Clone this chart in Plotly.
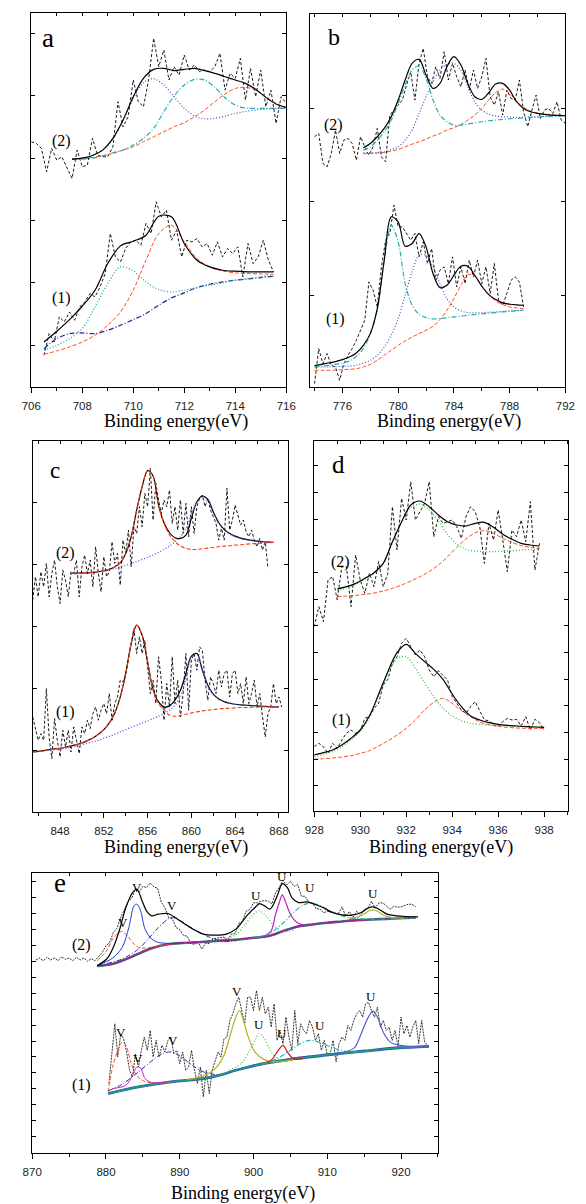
import numpy as np
import plotly.graph_objects as go

W, H = 586, 1204
SERIF = "Liberation Serif"
SANS = "Liberation Sans"


def grid(start, step, n):
    """Evenly spaced binding-energy grid of the spectrometer."""
    return np.round(start + step * np.arange(n), 3)

# ------------------------------------------------------------------ data
# ---- panel a (Fe 2p region) ----
a2_start, a2_step = 706.0, 0.2
a2_raw = [73.5, 73.0, 71.5, 64.5, 71.5, 68.0, 69.0, 65.5, 62.5, 71.0,
          66.0, 66.5, 74.5, 69.5, 69.0, 69.0, 72.0, 85.5, 78.0, 81.0,
          92.0, 85.5, 84.0, 92.0, 104.5, 96.0, 101.0, 92.0, 96.0, 93.5,
          99.5, 95.0, 96.5, 94.5, 95.0, 94.5, 96.0, 100.0, 89.0, 94.0,
          92.5, 98.5, 86.0, 95.5, 87.0, 95.0, 84.0, 89.0, 79.0, 87.0,
          85.0]
a2f_start, a2f_step = 707.6, 0.4
a2_env = [68.3, 68.6, 69.4, 71.0, 74.5, 80.0, 87.0, 92.5, 95.2, 95.5, 94.8,
          95.2, 95.5, 94.8, 94.0, 93.0, 92.0, 91.0, 89.2, 86.8, 84.8, 83.8]
a2_p1 = [68.3, 68.6, 69.4, 71.0, 74.3, 79.8, 86.5, 91.2, 92.4, 90.5, 87.0,
         83.5, 81.2, 80.4, 80.5, 81.2, 82.0, 82.6, 83.0, 83.3, 83.5, 83.7]
a2_p2 = [68.2, 68.3, 68.6, 69.2, 70.2, 71.0, 72.5, 74.5, 77.5, 82.5, 87.2,
         90.5, 92.2, 92.0, 89.8, 86.7, 84.5, 83.6, 83.5, 83.5, 83.5, 83.5]
a2_p3 = [68.3, 68.4, 68.8, 69.3, 70.0, 71.0, 72.0, 73.5, 75.0, 76.5, 78.0,
         79.2, 81.0, 83.0, 85.5, 87.8, 89.5, 89.8, 89.0, 87.0, 85.0, 83.8]

a1_start, a1_step = 706.5, 0.2
a1_raw = [9.5, 16.0, 13.5, 21.0, 19.5, 22.5, 20.0, 24.0, 25.5, 28.0,
          27.0, 30.0, 34.0, 46.0, 39.0, 37.5, 41.5, 43.5, 44.0, 42.5,
          49.0, 46.0, 55.5, 51.0, 53.0, 44.0, 47.0, 39.0, 44.0, 43.5,
          44.5, 42.0, 43.0, 39.5, 43.5, 39.0, 41.5, 40.0, 42.0, 33.0,
          43.0, 37.0, 39.0, 44.0, 38.0, 34.5]
a1f_start, a1f_step = 706.5, 0.5
a1_env = [13.5, 16.7, 20.2, 24.2, 29.0, 37.0, 42.3, 43.7, 45.5, 51.2,
          51.0, 43.0, 38.0, 36.0, 35.0, 34.7, 34.5, 34.5, 34.5]
a1_p1 = [11.0, 12.5, 14.5, 17.5, 24.0, 31.0, 36.0, 34.8, 31.5, 29.2,
         28.5, 29.0, 29.8, 30.5, 31.2, 32.0, 32.5, 33.0, 33.5]
a1_p2 = [9.8, 10.8, 12.0, 13.5, 15.5, 18.5, 22.5, 29.0, 38.0, 46.0,
         48.5, 43.5, 38.5, 36.0, 34.8, 34.2, 34.0, 33.9, 33.8]
a1_p3 = [11.5, 14.5, 16.0, 16.2, 16.0, 17.0, 18.5, 20.2, 22.0, 24.5,
         26.7, 28.2, 29.8, 30.8, 31.5, 32.0, 32.4, 32.8, 33.2]

# ---- panel b (Co 2p region) ----
b2_start, b2_step = 774.0, 0.3
b2_raw = [75.0, 76.0, 67.0, 66.0, 70.0, 77.0, 70.0, 74.0, 74.5, 73.0,
          68.0, 75.0, 72.0, 69.5, 72.0, 77.5, 69.0, 67.5, 81.5, 83.0,
          84.5, 86.0, 90.5, 94.5, 86.0, 97.0, 101.5, 93.0, 91.0, 96.0,
          92.5, 100.5, 92.0, 97.0, 93.0, 90.0, 95.0, 89.0, 95.0, 89.5,
          93.0, 98.5, 87.0, 84.5, 88.5, 81.5, 89.0, 86.5, 86.0, 92.0,
          82.5, 78.0, 83.0, 87.5, 80.5, 83.0, 83.5, 82.0, 85.5, 80.0,
          79.0]
b2f_start, b2f_step = 777.5, 0.5
b2_env = [71.7, 73.0, 75.0, 77.5, 81.0, 86.0, 92.0, 97.0, 98.2, 93.5,
          89.5, 91.0, 96.0, 99.0, 96.5, 91.0, 87.0, 86.2, 88.2, 90.8,
          91.0, 89.0, 85.5, 83.5, 82.5, 82.0, 81.7, 81.5, 81.4, 81.3]
b2_p1 = [71.0, 72.0, 74.0, 76.5, 80.0, 85.0, 90.5, 95.0, 96.2, 92.5,
         86.0, 81.5, 79.5, 78.5, 78.5, 78.8, 79.2, 79.5, 79.8, 80.0,
         80.2, 80.4, 80.5, 80.7, 80.8, 80.9, 81.0, 81.1, 81.2, 81.3]
b2_p2 = [70.2, 70.2, 70.3, 70.5, 71.2, 72.0, 74.0, 77.0, 82.0, 87.0,
         91.5, 95.0, 96.7, 97.0, 95.0, 90.0, 85.5, 83.0, 81.8, 81.2,
         81.0, 80.9, 80.8, 80.8, 80.9, 81.0, 81.1, 81.2, 81.3, 81.3]
b2_p3 = [69.9, 70.0, 70.1, 70.3, 70.7, 71.2, 72.0, 72.8, 73.5, 74.3,
         75.2, 76.0, 77.0, 77.7, 78.7, 80.0, 81.5, 83.5, 86.0, 88.3,
         89.3, 88.0, 85.7, 83.8, 82.7, 82.1, 81.8, 81.6, 81.4, 81.3]

b1_start, b1_step = 774.0, 0.3
b1_raw = [1.0, 11.5, 7.0, 10.0, 6.5, 6.0, 2.0, 7.0, 9.5, 11.5,
          14.0, 17.0, 20.0, 31.5, 29.0, 24.0, 36.0, 44.0, 46.0, 54.5,
          48.0, 48.0, 46.0, 44.0, 46.0, 39.0, 43.5, 37.0, 41.5, 32.0,
          35.0, 36.0, 31.0, 39.0, 30.0, 36.0, 31.0, 38.0, 33.0, 38.0,
          31.0, 36.0, 28.0, 37.0, 26.0, 24.5, 28.0, 32.0, 33.0, 31.5,
          24.0]
b1f_start, b1f_step = 774.0, 0.5
b1_env = [6.4, 6.8, 7.2, 7.6, 8.2, 9.0, 10.2, 12.5, 16.0, 23.5,
          38.0, 51.0, 49.5, 42.2, 43.0, 46.0, 42.0, 34.0, 29.8, 30.5,
          33.5, 36.2, 36.2, 33.5, 30.2, 27.7, 26.2, 25.2, 24.8, 24.6, 24.5]
b1_p1 = [6.0, 6.2, 6.5, 6.8, 7.2, 7.8, 9.2, 11.5, 16.0, 23.0,
         38.0, 48.5, 43.5, 31.0, 24.5, 21.8, 20.8, 20.4, 20.5, 20.8,
         21.0, 21.2, 21.5, 21.7, 21.9, 22.1, 22.3, 22.5, 22.7, 22.9, 23.0]
b1_p2 = [6.0, 6.0, 6.0, 6.1, 6.2, 6.3, 6.5, 7.2, 8.0, 9.5,
         12.0, 15.5, 20.5, 27.5, 34.5, 39.5, 39.5, 36.0, 31.0, 26.5,
         24.0, 22.8, 22.3, 22.2, 22.3, 22.4, 22.5, 22.7, 22.8, 22.9, 23.0]
b1_p3 = [5.0, 5.0, 5.0, 5.1, 5.2, 5.3, 5.5, 6.0, 6.8, 8.0,
         9.5, 11.0, 12.5, 13.8, 15.0, 16.0, 17.0, 18.2, 20.2, 23.0,
         26.5, 30.5, 33.7, 33.2, 30.5, 27.7, 25.8, 24.7, 24.0, 23.7, 23.5]

# ---- panel c (Ni 2p region) ----
c2_start, c2_step = 845.5, 0.25
c2_raw = [63.5, 70.5, 64.5, 72.0, 67.5, 74.5, 64.5, 71.5, 75.5, 67.5,
          62.5, 72.5, 69.5, 64.5, 72.0, 71.5, 75.5, 64.5, 73.5, 77.0,
          71.5, 75.5, 67.5, 79.5, 71.5, 66.0, 76.5, 70.5, 72.0, 81.0,
          74.5, 77.5, 68.0, 81.5, 77.5, 84.5, 73.5, 85.5, 83.5, 91.5,
          85.5, 95.5, 91.5, 103.0, 87.5, 98.5, 93.5, 89.5, 93.5, 91.5,
          96.5, 86.5, 91.5, 84.5, 93.5, 83.5, 92.5, 82.5, 91.5, 83.5,
          91.5, 94.0, 95.0, 91.5, 94.0, 90.5, 88.5, 86.5, 81.5, 85.0,
          81.5, 97.0, 84.5, 87.5, 92.0, 88.5, 86.0, 87.5, 84.0, 82.5,
          84.5, 81.5, 79.5, 82.0, 78.5, 81.0, 73.0]
c2f_start, c2f_step = 849.0, 0.5
c2_env = [71.5, 71.6, 71.7, 71.7, 71.8, 72.0, 72.3, 72.7, 73.5, 74.7,
          77.5, 82.5, 90.5, 97.5, 102.3, 100.7, 92.0, 86.7, 83.7, 82.2,
          82.0, 83.0, 88.0, 93.0, 94.7, 93.7, 90.0, 86.7, 84.7, 83.5,
          82.7, 82.1, 81.7, 81.4, 81.2, 81.0, 80.9, 80.8]
c2_p1 = [71.5, 71.6, 71.7, 71.7, 71.8, 72.0, 72.3, 72.7, 73.5, 74.7,
         77.5, 82.5, 90.5, 97.5, 102.3, 100.7, 92.0, 86.5, 83.0, 81.0,
         79.7, 79.0, 78.7, 78.7, 78.9, 79.1, 79.3, 79.5, 79.7, 79.8,
         80.0, 80.1, 80.3, 80.4, 80.5, 80.6, 80.7, 80.8]
c2_p2 = [71.3, 71.4, 71.5, 71.6, 71.8, 72.0, 72.3, 72.6, 73.0, 73.4,
         73.9, 74.5, 75.1, 75.7, 76.3, 77.0, 77.8, 78.7, 79.7, 81.0,
         82.5, 85.0, 89.0, 93.0, 94.5, 93.5, 89.8, 86.5, 84.5, 83.3,
         82.5, 82.0, 81.6, 81.4, 81.2, 81.0, 80.9, 80.8]

c1_start, c1_step = 845.5, 0.25
c1_raw = [28.5, 24.5, 21.5, 23.5, 21.5, 37.0, 22.5, 16.0, 28.0, 21.5,
          16.5, 24.5, 19.5, 24.5, 18.0, 25.5, 21.5, 17.5, 25.5, 23.5,
          27.5, 25.0, 29.5, 31.5, 27.5, 30.5, 32.5, 29.5, 35.5, 27.5,
          32.5, 34.5, 39.5, 39.0, 41.5, 46.5, 50.5, 55.0, 47.5, 52.5,
          47.5, 51.5, 43.5, 35.5, 39.5, 32.5, 46.5, 39.5, 27.5, 38.5,
          31.5, 46.5, 32.5, 39.5, 28.5, 35.5, 47.5, 30.5, 45.5, 47.5,
          42.5, 49.5, 48.5, 39.5, 33.5, 40.5, 38.5, 35.5, 42.5, 37.5,
          41.5, 42.5, 34.5, 41.5, 42.5, 35.5, 38.5, 32.5, 40.5, 32.5,
          35.5, 39.5, 31.5, 35.5, 28.5, 22.5, 29.5, 31.5, 38.5, 32.5,
          34.5, 31.5]
c1f_start, c1f_step = 845.5, 0.5
c1_env = [18.0, 18.2, 18.4, 18.7, 18.9, 19.1, 19.4, 19.8, 20.2, 20.7,
          21.4, 22.2, 23.3, 24.7, 26.7, 29.7, 34.5, 41.5, 50.5, 56.0,
          53.0, 45.0, 36.7, 33.0, 31.5, 31.8, 33.5, 36.5, 41.5, 46.7,
          47.5, 42.5, 38.0, 35.3, 33.9, 33.1, 32.6, 32.3, 32.1, 32.0,
          31.9, 31.8, 31.7, 31.6, 31.5, 31.5]
c1_p1 = [18.0, 18.2, 18.4, 18.7, 18.9, 19.1, 19.4, 19.8, 20.2, 20.7,
         21.4, 22.2, 23.3, 24.7, 26.7, 29.7, 34.5, 41.5, 50.5, 56.0,
         53.0, 45.0, 36.7, 32.5, 30.5, 29.0, 28.7, 28.9, 29.3, 29.7,
         30.0, 30.3, 30.5, 30.7, 30.9, 31.0, 31.1, 31.2, 31.3, 31.3,
         31.4, 31.4, 31.5, 31.5, 31.5, 31.5]
c1_p2 = [17.9, 18.1, 18.3, 18.5, 18.7, 18.9, 19.1, 19.4, 19.8, 20.2,
         20.6, 21.0, 21.5, 22.1, 22.7, 23.3, 24.0, 24.7, 25.4, 26.0,
         26.7, 27.3, 28.0, 28.7, 29.5, 30.5, 32.0, 34.5, 40.0, 46.5,
         47.5, 42.7, 38.0, 35.3, 33.9, 33.1, 32.6, 32.3, 32.1, 32.0,
         31.9, 31.8, 31.7, 31.6, 31.5, 31.5]

# ---- panel d (Cu 2p region) ----
d2_start, d2_step = 928.0, 0.2
d2_raw = [55.3, 61.3, 56.8, 69.3, 70.3, 63.3, 73.3, 73.3, 61.3, 76.8,
          69.3, 65.3, 71.3, 67.3, 74.8, 67.3, 71.3, 91.3, 78.3, 93.8,
          87.3, 98.8, 87.3, 89.8, 92.3, 98.8, 82.3, 88.3, 86.3, 86.8,
          87.3, 85.3, 81.8, 88.3, 91.3, 89.8, 85.3, 74.3, 86.3, 81.3,
          90.3, 81.3, 71.8, 84.3, 82.3, 87.3, 80.8, 92.8, 72.3, 80.3]
d2f_start, d2f_step = 929.0, 0.4
d2_env = [66.6, 67.3, 68.3, 69.8, 71.5, 74.3, 80.8, 86.8, 91.8, 93.0, 91.3, 88.8,
          86.8, 85.8, 85.5, 86.3, 86.6, 85.1, 83.0, 81.5, 80.3, 79.8, 79.5]
d2_p1 = [66.1, 66.9, 68.0, 69.5, 71.3, 74.0, 80.5, 86.5, 91.0, 92.1, 90.3, 87.0,
         83.0, 80.1, 78.5, 78.0, 77.8, 77.8, 77.9, 78.1, 78.3, 78.4, 78.5]
d2_p2 = [64.3, 64.5, 64.7, 65.0, 65.4, 66.0, 66.8, 67.8, 69.0, 70.3, 71.8, 73.8,
         76.3, 79.1, 81.6, 83.5, 84.1, 83.3, 81.8, 80.6, 79.6, 79.1, 78.8]

d1_start, d1_step = 928.0, 0.2
d1_raw = [19.3, 20.3, 19.3, 17.3, 20.3, 18.8, 21.3, 23.3, 24.3, 23.3,
          24.1, 27.8, 28.3, 30.8, 32.3, 37.8, 39.5, 44.3, 46.3, 50.3,
          51.8, 49.3, 46.8, 48.3, 46.3, 42.3, 40.3, 42.1, 40.8, 39.3,
          34.3, 32.1, 30.3, 29.3, 31.3, 32.8, 29.8, 27.3, 27.1, 25.8,
          25.3, 26.8, 27.8, 27.3, 27.5, 25.5, 28.3, 24.3, 27.5, 26.5,
          24.3]
d1f_start, d1f_step = 928.0, 0.4
d1_env = [16.8, 17.5, 18.3, 19.8, 21.8, 24.3, 28.5, 35.0, 41.8, 47.5, 50.0, 47.3, 44.8,
          42.5, 39.5, 35.1, 31.3, 28.5, 27.3, 26.5, 26.0, 25.7, 25.5, 25.3, 25.2, 25.1]
d1_p1 = [16.3, 17.0, 17.8, 19.3, 21.3, 23.8, 28.0, 34.5, 41.1, 45.8, 46.3, 42.8, 38.5,
         34.3, 30.8, 28.5, 27.1, 26.3, 26.0, 25.8, 25.7, 25.6, 25.5, 25.4, 25.3, 25.2]
d1_p2 = [15.5, 15.7, 15.9, 16.2, 16.6, 17.3, 18.1, 19.5, 21.0, 22.8, 24.8, 27.3, 30.3,
         32.6, 33.8, 32.3, 30.1, 28.3, 26.7, 25.9, 25.4, 25.1, 24.9, 24.8, 24.8, 24.7]

# ---- panel e (Ce 3d region) ----
e2_start, e2_step = 870.5, 0.5
e2_raw = [58.2, 58.8, 58.0, 59.0, 58.2, 58.8, 58.0, 59.2, 58.4, 58.8,
          58.0, 59.0, 58.2, 58.8, 57.8, 58.6, 58.0, 59.2, 60.5, 62.5,
          63.5, 66.5, 67.8, 71.0, 73.2, 75.8, 76.8, 79.8, 78.6, 80.4,
          80.0, 81.4, 80.2, 79.8, 75.6, 73.9, 71.0, 70.6, 68.0, 67.4,
          65.6, 65.4, 63.2, 62.9, 63.6, 61.5, 63.3, 63.1, 64.6, 64.8,
          64.9, 65.1, 64.2, 66.0, 66.1, 69.2, 69.8, 72.9, 73.4, 75.4,
          75.4, 75.9, 76.1, 75.9, 75.1, 78.4, 80.1, 82.2, 80.8, 81.9,
          80.4, 80.9, 77.4, 77.4, 75.6, 75.4, 73.6, 73.6, 72.4, 72.9,
          72.6, 72.4, 72.1, 74.2, 71.4, 72.8, 71.1, 72.9, 71.6, 73.4,
          73.8, 75.9, 73.8, 75.4, 75.4, 74.6, 73.4, 74.4, 74.1, 74.2,
          74.6, 75.0, 75.0, 74.2]
e2_bg_x = [878.8, 880, 881, 882, 883, 884, 885, 886, 887, 888, 889, 890, 892, 894,
           896, 898, 900, 902, 904, 906, 908, 910, 912, 914, 916, 918, 920, 922]
e2_bg = [56.4, 56.7, 57.1, 57.8, 58.7, 59.7, 60.7, 61.6, 62.3, 62.8, 63.1, 63.3, 63.5, 63.8,
         64.1, 64.4, 64.9, 65.4, 66.9, 68.3, 68.9, 69.4, 69.8, 70.2, 70.4, 70.6, 70.8, 71.0]
e2_env_x = [878.8, 880.1, 880.9, 881.8, 882.7, 883.6, 884.2, 884.9, 885.5, 886.2,
            887.1, 888.4, 889.7, 891.4, 893.2, 894.9, 896.3, 897.6, 898.4, 899.3,
            900.2, 900.8, 901.5, 902.2, 902.6, 903.3, 903.9, 904.6, 905.2, 906.1,
            907.2, 908.3, 909.4, 910.7, 912.0, 913.3, 914.6, 915.5, 916.2, 917.0,
            918.1, 919.4, 920.7, 922.3]
e2_env = [56.5, 58.5, 61.5, 67.0, 74.0, 78.5, 79.5, 76.0, 73.0, 71.5,
          72.0, 72.2, 70.5, 68.0, 66.0, 65.7, 66.0, 67.5, 69.5, 72.0,
          74.0, 75.2, 74.5, 73.5, 74.5, 78.0, 81.2, 80.0, 77.0, 75.5,
          75.7, 75.0, 74.0, 72.5, 71.8, 71.7, 72.5, 73.8, 74.2, 73.5,
          72.0, 71.5, 71.3, 71.2]
e2_v1_x = [878.8, 880.1, 880.9, 881.8, 882.2, 882.9, 883.6, 884.4, 885.3, 886.6, 888.4, 891.0]
e2_v1 = [58.0, 61.0, 64.5, 66.5, 66.8, 65.5, 63.5, 62.0, 61.8, 62.2, 63.0, 63.3]
e2_v2_x = [878.8, 880.9, 882.2, 883.1, 883.8, 884.2, 884.7, 885.3, 886.2, 887.1, 888.8, 890.6]
e2_v2 = [56.5, 58.8, 62.0, 68.0, 74.5, 75.0, 73.0, 67.5, 64.5, 63.5, 63.2, 63.3]
e2_v3_x = [878.8, 882.2, 884.4, 885.7, 887.1, 888.4, 889.0, 890.1, 891.9, 894.1, 895.8, 897.6]
e2_v3 = [56.5, 58.5, 61.5, 64.5, 68.0, 70.5, 71.0, 70.0, 67.5, 65.0, 63.8, 64.0]
e2_u1_x = [894.1, 895.4, 897.6, 898.9, 900.0, 900.8, 901.7, 902.8, 904.1, 905.4]
e2_u1 = [63.8, 64.2, 65.8, 69.0, 72.0, 73.0, 71.5, 68.5, 66.8, 67.2]
e2_u2_x = [900.2, 901.5, 902.4, 903.0, 903.5, 903.9, 904.3, 905.0, 905.9, 906.7]
e2_u2 = [65.0, 65.5, 67.0, 72.0, 75.5, 77.8, 76.0, 72.0, 69.5, 68.8]
e2_u3_x = [900.2, 901.9, 904.1, 905.4, 906.7, 907.6, 908.9, 910.7, 912.4, 914.2, 915.9, 922.3]
e2_u3 = [65.0, 65.8, 69.5, 72.5, 74.7, 75.3, 74.7, 72.7, 71.2, 70.7, 70.5, 71.0]
e2_u4_x = [912.9, 914.2, 915.1, 915.7, 916.3, 916.8, 917.7, 918.8, 920.3]
e2_u4 = [70.7, 71.2, 72.2, 73.1, 73.3, 72.9, 71.7, 71.0, 70.8]

e1_start, e1_step = 880.4, 0.4
e1_raw = [21.0, 29.0, 39.0, 29.0, 36.0, 34.5, 30.5, 25.0, 23.0, 30.0,
          26.0, 31.0, 35.0, 31.0, 37.0, 29.0, 34.0, 29.0, 32.5, 30.5,
          34.0, 35.0, 30.0, 31.0, 27.0, 30.5, 25.0, 26.0, 31.0, 25.0,
          21.0, 26.0, 17.0, 25.0, 18.0, 25.0, 27.5, 30.5, 29.0, 34.5,
          35.0, 40.0, 42.0, 45.0, 47.0, 43.0, 39.0, 47.0, 47.0, 43.0,
          49.0, 43.0, 47.0, 42.0, 44.0, 38.0, 45.0, 34.0, 37.0, 33.0,
          41.0, 35.0, 31.0, 43.0, 33.0, 39.0, 37.0, 36.0, 40.0, 38.0,
          34.0, 36.0, 31.0, 34.0, 29.5, 30.0, 34.0, 27.5, 33.0, 35.0,
          34.0, 38.5, 37.0, 40.0, 42.0, 43.0, 41.0, 45.0, 45.5, 43.0,
          41.0, 44.0, 38.0, 40.0, 37.0, 38.0, 34.0, 37.0, 32.0, 41.0,
          36.0, 38.5, 35.0, 38.0, 40.0, 33.0, 40.0, 33.5, 32.5]
e1_bg_x = [880.3, 884.4, 888.8, 893.2, 895.4, 897.6, 899.7, 901.9, 904.1, 906.3,
           910.7, 915.1, 919.4, 923.8]
e1_bg = [18.0, 20.0, 21.5, 22.5, 23.5, 25.0, 26.2, 27.2, 28.0, 28.7, 29.8, 30.8, 31.7, 32.2]
e1_v1_x = [880.3, 880.9, 881.6, 882.2, 882.7, 883.3, 884.0, 884.9, 886.2, 888.8]
e1_v1 = [18.5, 26.0, 31.0, 33.5, 32.5, 28.0, 24.0, 22.0, 21.2, 21.5]
e1_v2_x = [880.9, 882.7, 883.6, 884.2, 884.7, 885.3, 886.2, 887.9]
e1_v2 = [19.5, 20.5, 23.5, 26.0, 25.7, 22.5, 21.3, 21.3]
e1_v3_x = [880.3, 882.2, 884.4, 886.6, 887.9, 888.8, 890.1, 891.9, 893.6, 895.4]
e1_v3 = [18.8, 20.8, 24.5, 28.5, 30.2, 30.5, 29.2, 26.2, 24.2, 23.6]
e1_v4_x = [891.0, 893.2, 894.9, 896.0, 896.9, 897.6, 898.1, 898.5, 899.3, 900.2,
           901.5, 903.2, 905.4]
e1_v4 = [22.2, 23.3, 25.7, 29.5, 36.0, 41.0, 43.0, 41.0, 35.0, 30.5, 28.2, 27.5, 28.2]
e1_u1_x = [896.7, 898.4, 899.5, 900.3, 900.8, 901.5, 902.4, 903.5, 905.0]
e1_u1 = [25.0, 27.2, 31.0, 34.5, 36.0, 34.5, 30.5, 28.2, 27.8]
e1_u2_x = [901.1, 902.4, 903.2, 904.0, 904.6, 905.4, 906.7]
e1_u2 = [26.8, 28.0, 30.5, 32.5, 30.5, 28.5, 28.5]
e1_u3_x = [901.1, 903.2, 905.0, 906.3, 907.6, 908.9, 910.7, 912.4, 914.2, 915.9]
e1_u3 = [26.8, 28.5, 31.0, 33.0, 34.0, 33.5, 31.8, 30.7, 30.5, 30.7]
e1_u4_x = [910.7, 912.4, 913.7, 914.6, 915.5, 916.2, 916.8, 917.7, 918.6, 919.9, 921.6, 923.8]
e1_u4 = [29.8, 30.5, 31.8, 36.0, 40.7, 42.8, 41.0, 36.0, 33.4, 32.5, 32.1, 32.2]

# labels
panel_letters = ["a", "b", "c", "d", "e"]
sample_labels = ["(1)", "(2)"]
x_title = "Binding energy(eV)"

# ------------------------------------------------------------------ layout
PANELS = [
    dict(px=(22, 286), py=(13.3, 387), xr=(706, 716), yr=(0, 112), dtick=2, minor=1,
         tick0=706, yt0=12.5, ydt=18.7),
    dict(px=(311, 575), py=(14, 387), xr=(773.7, 792), yr=(0, 111.8), dtick=4, minor=2,
         tick0=776, yt0=-0.5, ydt=28),
    dict(px=(23.5, 287.5), py=(441, 812), xr=(845.5, 868.8), yr=(0, 111.2), dtick=4, minor=2,
         tick0=848, yt0=18.5, ydt=18.6),
    dict(px=(315, 578), py=(441, 811), xr=(928, 939.05), yr=(0, 111), dtick=2, minor=1,
         tick0=928, yt0=7.6, ydt=8),
    dict(px=(23, 443), py=(873, 1153.3), xr=(870, 925), yr=(0, 84.4), dtick=10, minor=5,
         tick0=870, yt0=5.0, ydt=4.8),
]

fig = go.Figure()
lay = {}
for i, p in enumerate(PANELS):
    n = i + 1
    s = "" if n == 1 else str(n)
    xd = [p["px"][0] / W, p["px"][1] / W]
    yd = [1 - p["py"][1] / H, 1 - p["py"][0] / H]
    lay["xaxis" + s] = dict(
        domain=xd, range=list(p["xr"]), anchor="y" + s, showline=True, mirror=True,
        linecolor="black", linewidth=1, ticks="outside", ticklen=5, tickwidth=1,
        tickcolor="black", tick0=p["tick0"], dtick=p["dtick"], showgrid=False,
        zeroline=False, ticklabelstandoff=3,
        tickfont=dict(family=SANS, size=11.5, color="#222"),
        minor=dict(tick0=p["tick0"], dtick=p["minor"], ticks="outside", ticklen=3,
                   tickcolor="black", showgrid=False))
    lay["yaxis" + s] = dict(
        domain=yd, range=list(p["yr"]), anchor="x" + s, showline=True, mirror="ticks",
        linecolor="black", linewidth=1, ticks="inside", ticklen=4, tickwidth=1,
        tickcolor="black", tick0=p["yt0"], dtick=p["ydt"], showticklabels=False,
        showgrid=False, zeroline=False)
    # top axis with inward ticks
    t = str(n + 5)
    lay["xaxis" + t] = dict(
        overlaying="x" + s, side="top", anchor="y" + s, range=list(p["xr"]),
        showline=False, ticks="inside", ticklen=3, tickwidth=1, tickcolor="black",
        tick0=p["tick0"], dtick=p["minor"], showticklabels=False, showgrid=False,
        zeroline=False)
    fig.add_trace(go.Scatter(x=[p["xr"][0]], y=[-100], mode="markers",
                             marker=dict(size=1, opacity=0), xaxis="x" + t,
                             yaxis="y" + s, hoverinfo="skip", showlegend=False))


def add(n, x, y, color, dash="solid", width=1.0, spline=True):
    s = "" if n == 1 else str(n)
    fig.add_trace(go.Scatter(
        x=list(x), y=list(y), mode="lines", xaxis="x" + s, yaxis="y" + s,
        line=dict(color=color, dash=dash, width=width,
                  shape="spline" if spline else "linear", smoothing=0.9),
        hoverinfo="skip", showlegend=False))


RAW = "3px,2px"
DASH = "4px,2px"
DOT = "1px,2px"
DDOT = "5px,2px,1px,2px"
ORANGE = "#ff4e1e"
CYAN = "#1fb0b0"
SLATE = "#4a4ac8"
NAVY = "#25259a"
GREEN = "#35c835"

# panel a
add(1, grid(a2_start, a2_step, len(a2_raw)), a2_raw, "black", RAW, 0.9, False)
xa2 = grid(a2f_start, a2f_step, len(a2_env))
add(1, xa2, a2_p3, ORANGE, DASH)
add(1, xa2, a2_p2, CYAN, DDOT, 1.2)
add(1, xa2, a2_p1, SLATE, DOT, 1.2)
add(1, xa2, a2_env, "black", "solid", 1.2)
add(1, grid(a1_start, a1_step, len(a1_raw)), a1_raw, "black", RAW, 0.9, False)
xa1 = grid(a1f_start, a1f_step, len(a1_env))
add(1, xa1, a1_p3, NAVY, DDOT, 1.2)
add(1, xa1, a1_p2, ORANGE, DASH)
add(1, xa1, a1_p1, CYAN, DOT, 1.4)
add(1, xa1, a1_env, "black", "solid", 1.2)

# panel b
add(2, grid(b2_start, b2_step, len(b2_raw)), b2_raw, "black", RAW, 0.9, False)
xb2 = grid(b2f_start, b2f_step, len(b2_env))
add(2, xb2, b2_p3, ORANGE, DASH)
add(2, xb2, b2_p2, SLATE, DOT, 1.2)
add(2, xb2, b2_p1, CYAN, DDOT, 1.2)
add(2, xb2, b2_env, "black", "solid", 1.2)
add(2, grid(b1_start, b1_step, len(b1_raw)), b1_raw, "black", RAW, 0.9, False)
xb1 = grid(b1f_start, b1f_step, len(b1_env))
add(2, xb1, b1_p3, ORANGE, DASH)
add(2, xb1, b1_p2, SLATE, DOT, 1.2)
add(2, xb1, b1_p1, CYAN, DDOT, 1.2)
add(2, xb1, b1_env, "black", "solid", 1.2)

# panel c
add(3, grid(c2_start, c2_step, len(c2_raw)), c2_raw, "black", RAW, 0.9, False)
xc2 = grid(c2f_start, c2f_step, len(c2_env))
add(3, xc2, c2_env, "black", "solid", 1.2)
add(3, xc2, c2_p2, "#4055e0", DOT, 1.3)
add(3, xc2, c2_p1, "#ff3c10", DASH, 1.1)
add(3, grid(c1_start, c1_step, len(c1_raw)), c1_raw, "black", RAW, 0.9, False)
xc1 = grid(c1f_start, c1f_step, len(c1_env))
add(3, xc1, c1_env, "black", "solid", 1.2)
add(3, xc1, c1_p2, "#4055e0", DOT, 1.3)
add(3, xc1, c1_p1, "#ff3c10", DASH, 1.1)

# panel d
add(4, grid(d2_start, d2_step, len(d2_raw)), d2_raw, "black", RAW, 0.9, False)
xd2 = grid(d2f_start, d2f_step, len(d2_env))
add(4, xd2, d2_p2, ORANGE, DASH)
add(4, xd2, d2_p1, GREEN, DOT, 1.3)
add(4, xd2, d2_env, "black", "solid", 1.2)
add(4, grid(d1_start, d1_step, len(d1_raw)), d1_raw, "black", RAW, 0.9, False)
xd1 = grid(d1f_start, d1f_step, len(d1_env))
add(4, xd1, d1_p2, ORANGE, DASH)
add(4, xd1, d1_p1, GREEN, DOT, 1.3)
add(4, xd1, d1_env, "black", "solid", 1.2)

# panel e
add(5, grid(e2_start, e2_step, len(e2_raw)), e2_raw, "black", "2px,1px", 0.8, False)
add(5, e2_bg_x, e2_bg, "#2a8a6a", "solid", 2.6)
add(5, e2_bg_x, e2_bg, "#a020a0", "solid", 1.6)
add(5, e2_v1_x, e2_v1, ORANGE, DASH)
add(5, e2_v2_x, e2_v2, "#2040d0", "solid", 1.0)
add(5, e2_v3_x, e2_v3, "#2030a8", DDOT, 1.0)
add(5, e2_u1_x, e2_u1, GREEN, DOT, 1.2)
add(5, e2_u2_x, e2_u2, "#c020c0", "solid", 1.2)
add(5, e2_u3_x, e2_u3, CYAN, DDOT, 1.2)
add(5, e2_u4_x, e2_u4, "#b8b020", "solid", 1.2)
add(5, e2_env_x, e2_env, "black", "solid", 1.2)

add(5, grid(e1_start, e1_step, len(e1_raw)), e1_raw, "black", "2px,1px", 0.8, False)
add(5, e1_bg_x, e1_bg, "#3050b0", "solid", 2.8)
add(5, e1_bg_x, e1_bg, "#1f9a7a", "solid", 1.6)
add(5, e1_v1_x, e1_v1, ORANGE, DASH)
add(5, e1_v2_x, e1_v2, "#c020c0", "solid", 1.0)
add(5, e1_v3_x, e1_v3, "#2030a8", DDOT, 1.0)
add(5, e1_v4_x, e1_v4, "#b8b020", "solid", 1.2)
add(5, e1_u1_x, e1_u1, GREEN, DOT, 1.2)
add(5, e1_u2_x, e1_u2, "#e01010", "solid", 1.2)
add(5, e1_u3_x, e1_u3, CYAN, DDOT, 1.2)
add(5, e1_u4_x, e1_u4, "#5060c8", "solid", 1.2)


def txt(s, x, y, size, family=SERIF):
    fig.add_annotation(text=s, x=x / W, y=1 - y / H, xref="paper", yref="paper",
                       showarrow=False, xanchor="center", yanchor="middle",
                       font=dict(family=family, size=size, color="black"))


# panel letters
for letter, (x, y, sz) in zip(panel_letters, [(39, 38, 27), (335, 37, 24), (47, 470, 23),
                                              (340, 464, 25), (52, 883, 27)]):
    txt(letter, x, y, sz)
# sample labels
for (x1, y1), (x2, y2) in [((53, 298), (53, 141)), ((337, 319), (335, 125)),
                           ((57, 712), (57, 553)), ((343, 720), (342, 562)),
                           ((74, 1085), (74, 945))]:
    txt(sample_labels[0], x1, y1, 16)
    txt(sample_labels[1], x2, y2, 16)
# axis titles
for x, y in [(172, 421), (455, 421), (172, 847), (446, 847), (241, 1193)]:
    txt(x_title, x, y, 18)
# Ce 3d peak labels
for s, x, y in [("V", 117, 922), ("V", 131, 888), ("V", 168, 905), ("U", 255, 895),
                ("U", 282, 876), ("U", 311, 888), ("U", 376, 893),
                ("V", 115, 1032), ("V", 133, 1058), ("V", 169, 1040), ("V", 235, 991),
                ("U", 258, 1024), ("U", 282, 1033), ("U", 321, 1025), ("U", 374, 996)]:
    txt(s, x, y, 13)

fig.update_layout(width=W, height=H, margin=dict(l=0, r=0, t=0, b=0),
                  paper_bgcolor="white", plot_bgcolor="white", showlegend=False, **lay)
fig.write_html("out.html")
